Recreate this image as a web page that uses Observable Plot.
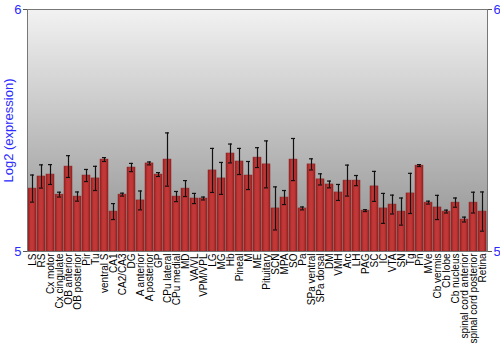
<!DOCTYPE html>
<html>
<head>
<meta charset="utf-8">
<script src="https://cdn.jsdelivr.net/npm/d3@7"></script>
<script src="https://cdn.jsdelivr.net/npm/@observablehq/plot@0.6"></script>
<style>
  body { margin: 0; background: #fff; }
</style>
</head>
<body>
<svg width="0" height="0" style="position:absolute">
  <defs>
    <linearGradient id="bgGrad" x1="0" y1="0" x2="0" y2="1">
      <stop offset="0" stop-color="#f2f2f2"/>
      <stop offset="1" stop-color="#8e8e8e"/>
    </linearGradient>
    <linearGradient id="barGrad" x1="0" y1="0" x2="1" y2="0">
      <stop offset="0" stop-color="#952020"/>
      <stop offset="0.35" stop-color="#c23838"/>
      <stop offset="0.65" stop-color="#c23838"/>
      <stop offset="1" stop-color="#952020"/>
    </linearGradient>
  </defs>
</svg>
<div id="chart"></div>
<script>
const regions = ["LS","RS","Cx motor","Cx cingulate","OB anterior","OB posterior","Pir","Tu","ventral S","CA1","CA2/CA3","DG","A anterior","A posterior","GP","CPu lateral","CPu medial","MD","VA/VL","VPM/VPL","LG","MG","Hb","Pineal","M","ME","Pituitary","SCN","MPA","SO","Pa","SPa ventral","SPa dorsal","DM","VMH","Arc","LH","PAG","SC","IC","VTA","SN","Tg","Pn","MVe","Cb vermis","Cb lobe","Cb nucleus","spinal cord anterior","spinal cord posterior","Retina"];
const means = [5.260,5.310,5.318,5.235,5.351,5.227,5.314,5.302,5.380,5.165,5.235,5.347,5.211,5.364,5.318,5.380,5.227,5.260,5.219,5.219,5.335,5.302,5.405,5.372,5.314,5.388,5.360,5.178,5.223,5.380,5.178,5.360,5.298,5.277,5.244,5.293,5.293,5.169,5.269,5.178,5.194,5.165,5.240,5.355,5.202,5.182,5.165,5.202,5.132,5.202,5.165];
const errors = [0.056,0.048,0.041,0.010,0.045,0.019,0.025,0.050,0.008,0.033,0.006,0.017,0.039,0.006,0.008,0.110,0.021,0.033,0.021,0.006,0.091,0.066,0.039,0.054,0.058,0.041,0.097,0.089,0.029,0.087,0.006,0.023,0.023,0.014,0.033,0.064,0.021,0.004,0.062,0.062,0.039,0.056,0.083,0.004,0.006,0.050,0.006,0.019,0.010,0.043,0.081];
const yTicks = [5, 6];
const yLabel = "Log2 (expression)";

const data = regions.map((r, i) => ({region: r, mean: means[i], lo: means[i] - errors[i], hi: means[i] + errors[i]}));

const chart = Plot.plot({
  width: 500,
  height: 350,
  marginLeft: 27,
  marginRight: 13,
  marginTop: 9,
  marginBottom: 99,
  style: {fontFamily: "'Liberation Sans', Arial, sans-serif", fontSize: "10px", background: "#fff"},
  x: {type: "band", domain: regions, padding: 0.1, label: null},
  y: {domain: [5, 6], ticks: yTicks, label: null},
  marks: [
    Plot.frame({fill: "url(#bgGrad)", stroke: "none"}),
    Plot.barY(data, {x: "region", y1: 5, y2: "mean", fill: "url(#barGrad)", stroke: "#8a2525", strokeWidth: 0.5}),
    Plot.ruleX(data, {x: "region", y1: "lo", y2: "hi", stroke: "#111", strokeWidth: 1.2}),
    Plot.tickY(data, {x: "region", y: "lo", stroke: "#111", strokeWidth: 1.2, insetLeft: 2, insetRight: 2}),
    Plot.tickY(data, {x: "region", y: "hi", stroke: "#111", strokeWidth: 1.2, insetLeft: 2, insetRight: 2}),
    Plot.frame({stroke: "#777", strokeWidth: 1}),
    Plot.axisX({tickRotate: -90, tickSize: 0, tickPadding: 2, fontSize: 10, fill: "#000", label: null}),
    Plot.axisY({anchor: "left", ticks: yTicks, tickSize: 4, stroke: "#555", fill: "#2a2aff", fontSize: 13, tickPadding: 2, tickFormat: d3.format("d"),
      label: yLabel, labelAnchor: "center", labelArrow: "none", labelOffset: 24}),
    Plot.axisY({anchor: "right", ticks: yTicks, tickSize: 4, stroke: "#555", fill: "#2a2aff", fontSize: 13, tickPadding: 2, tickFormat: d3.format("d"), label: null})
  ]
});
document.getElementById("chart").appendChild(chart);
</script>
</body>
</html>
